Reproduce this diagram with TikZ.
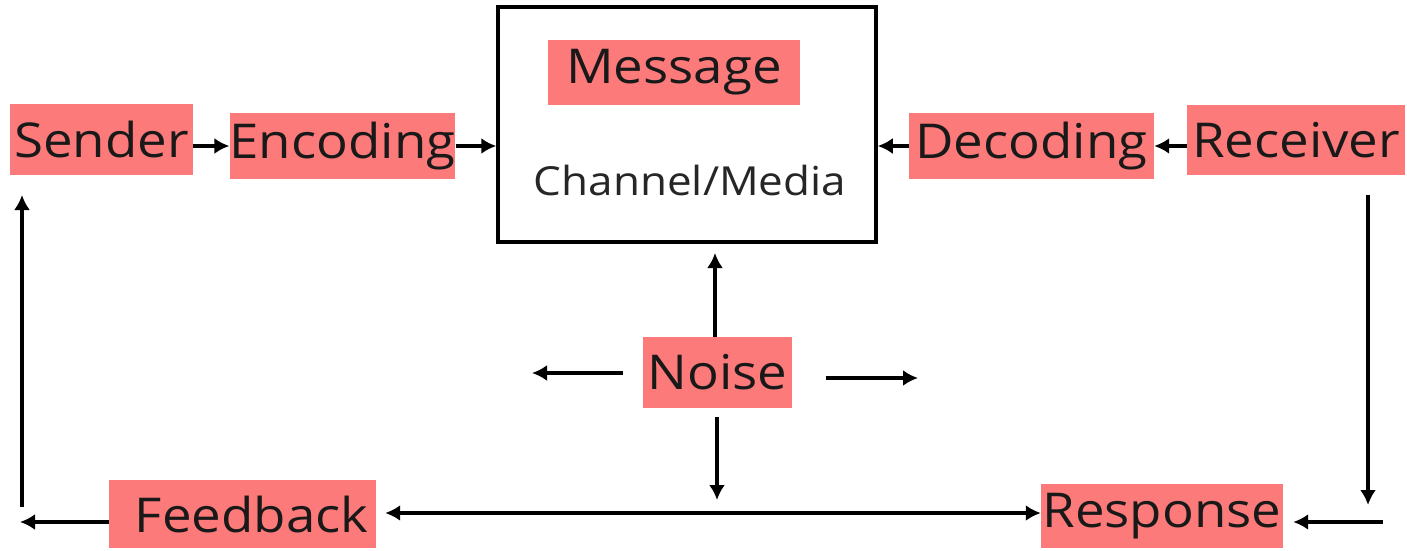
\documentclass[tikz,border=0pt]{standalone}
\usepackage{fontspec}
\setmainfont{Open Sans}[FakeStretch=1.1]
\usetikzlibrary{arrows.meta}
\definecolor{salmon}{RGB}{252,122,122}
\newcommand\tagcol{salmon}

\begin{document}
\begin{tikzpicture}[x=1pt, y=-1pt,
      tag/.style={fill=\tagcol,inner sep=0pt,text=black!90,font=\fontsize{48}{52}\selectfont},
      vector/.style={>={Latex[length=15pt,width=16pt]},line width=3.5pt,->}
    ]
    \useasboundingbox (0,0) rectangle (1407,551);

    \node[draw, line width=3.5pt, minimum width=378pt, minimum height=235pt] (channel) at (687,124.5) {};
    \node[tag, minimum width=252pt, minimum height=65pt] (message) at (674,72.5) {Message};
    \node[font=\fontsize{40}{44}\selectfont, text=black!85] (media) at (690,180) {Channel/Media};

    \node[tag, minimum width=183pt, minimum height=71pt] (sender) at (101.5,139.5) {Sender};
    \node[tag, minimum width=225pt, minimum height=66pt] (encoding) at (342.5,146) {Encoding};
    \node[tag, minimum width=245pt, minimum height=66pt] (decoding) at (1031.5,146) {Decoding};
    \node[tag, minimum width=218pt, minimum height=70pt] (receiver) at (1296,140) {Receiver};
    \node[tag, minimum width=149pt, minimum height=71pt] (noise) at (717.5,372.5) {Noise};
    \node[tag, minimum width=267pt, minimum height=68pt] (feedback) at (242.5,514) {\hspace{18pt}Feedback};
    \node[tag, minimum width=242pt, minimum height=64pt] (response) at (1162,516) {Response};

    \draw[vector] (sender.east |- encoding.west) -- (encoding.west);
    \draw[vector] (encoding.east) -- (encoding.east -| channel.west);
    \draw[vector] (receiver.west |- decoding.east) -- (decoding.east);
    \draw[vector] (decoding.west) -- (decoding.west -| channel.east);

    % loop back on the right
    \coordinate (rtop) at (1368,195);
    \coordinate (rbot) at (1368,505);
    \coordinate (rin) at (1383,522);
    \draw[vector] (rtop) -- (rbot);
    \draw[vector] (rin) -- ([xshift=10pt]response.east |- rin);

    % loop back on the left
    \coordinate (lout) at (20,522);
    \coordinate (lbot) at (22,507);
    \coordinate (ltop) at (22,195);
    \draw[vector] (feedback.west |- lout) -- (lout);
    \draw[vector] (lbot) -- (ltop);

    \draw[vector, <->, line width=4.5pt] ([xshift=9pt]feedback.east |- 0,513) -- (response.west |- 0,513);

    % noise
    \coordinate (nup) at (715,253);
    \coordinate (nleft) at (532,373);
    \coordinate (nright) at (918,378);
    \coordinate (ndown) at (717,500);
    \draw[vector] (noise.north -| nup) -- (nup);
    \draw[vector] ([xshift=-20pt]noise.west |- nleft) -- (nleft);
    \draw[vector] ([xshift=34pt]noise.east |- nright) -- (nright);
    \draw[vector] ([yshift=-9pt]noise.south -| ndown) -- (ndown);
  \end{tikzpicture}
\end{document}
